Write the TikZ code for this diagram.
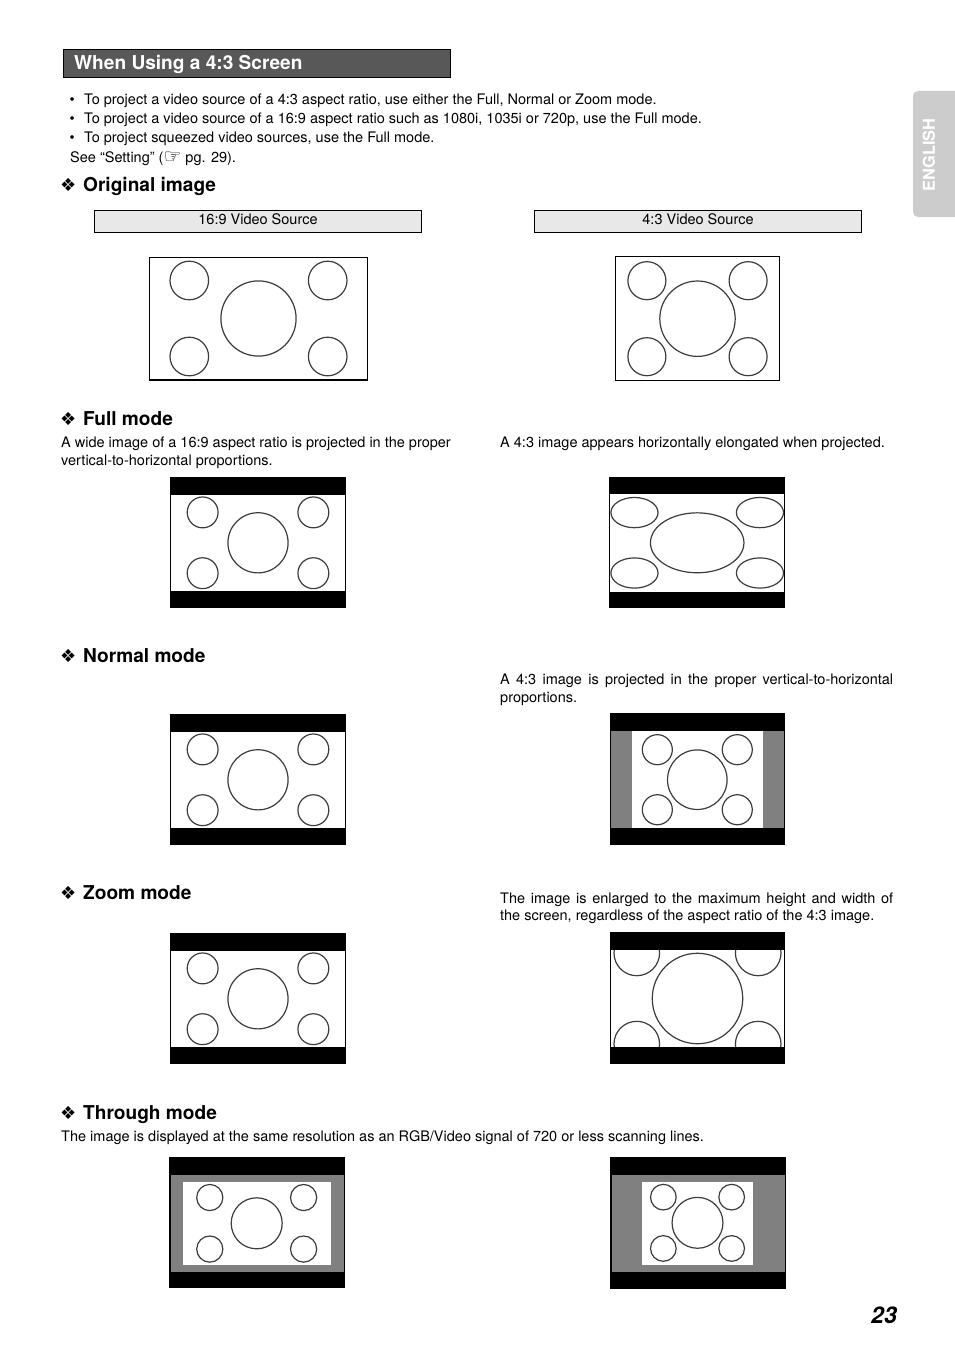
\documentclass[tikz,border=0pt]{standalone}
\usepackage{fontspec}
\setmainfont{TeX Gyre Heros}
\newfontfamily\symf{DejaVu Sans}
\newcommand\bodyf{\fontsize{14.5}{17}\selectfont}
\newcommand\hdf{\fontsize{19.1}{22}\selectfont\bfseries}
\newcommand\tabf{\fontsize{16.4}{19}\selectfont\bfseries}
\newcommand\pgf{\fontsize{23}{26}\selectfont\bfseries\itshape}
\definecolor{hdrgray}{RGB}{88,88,88}
\definecolor{boxgray}{RGB}{232,232,232}
\definecolor{midgray}{RGB}{128,128,128}
\definecolor{tabgray}{RGB}{204,204,204}
\definecolor{circgray}{RGB}{60,60,60}
\newcommand\widec[4]{\begin{scope}[shift={(#1,#2)},xscale=#3,yscale=#4]
 \draw[circ] (0,0) circle (37.6);
 \foreach \sx in {-1,1}{\foreach \sy in {-1,1}{\draw[circ] (\sx*69.2,\sy*38) circle (19.3);}}
\end{scope}}
\newcommand\stdc[4]{\begin{scope}[shift={(#1,#2)},xscale=#3,yscale=#4]
 \draw[circ] (0,0) circle (37.7);
 \foreach \sx in {-1,1}{\foreach \sy in {-1,1}{\draw[circ] (\sx*50.6,\sy*38) circle (19);}}
\end{scope}}
\begin{document}
\begin{tikzpicture}[x=1pt,y=-1pt,
  txt/.style={anchor=base west,inner sep=0pt,font=\bodyf},
  hd/.style={anchor=base west,inner sep=0pt,font=\hdf},
  dia/.style={anchor=base west,inner sep=0pt,font=\symf\fontsize{18}{20}\selectfont},
  circ/.style={draw=circgray,line width=1.2pt},
  frm/.style={draw=black,line width=1.4pt,fill=white},
  srcbox/.style={draw=black,line width=0.9pt,fill=boxgray}]
\useasboundingbox (0,0) rectangle (954,1351);
\fill[white] (0,0) rectangle (954,1351);
% header
\draw[fill=hdrgray,draw=black,line width=0.9pt] (63,49) rectangle (450.5,77);
\node[hd,text=white] (title) at (74,70) {When Using a 4:3 Screen};
% tab
\fill[tabgray,rounded corners=5pt] (913,91) rectangle (966,217);
\node[inner sep=0pt,rotate=90,text=white] (tab) at (929,155) {\tabf ENGLISH};
% bullets
\node[txt] (b1) at (69.5,105) {\textbullet};
\node[txt] (t1) at (84,105) {To project a video source of a 4:3 aspect ratio, use either the Full, Normal or Zoom mode.};
\node[txt] (b2) at (69.5,124) {\textbullet};
\node[txt] (t2) at (84,124) {To project a video source of a 16:9 aspect ratio such as 1080i, 1035i or 720p, use the Full mode.};
\node[txt] (b3) at (69.5,143) {\textbullet};
\node[txt] (t3) at (84,143) {To project squeezed video sources, use the Full mode.};
\node[txt] (t4) at (70,163) {See “Setting” ({\symf\fontsize{20}{20}\selectfont\raisebox{-1pt}{☞}} pg. 29).};
% Original image
\node[dia] (d1) at (60,192) {❖};
\node[hd] (h1) at (83,192) {Original image};
\draw[srcbox] (94.5,210.5) rectangle (421.5,232.5);
\node[inner sep=0pt,anchor=base,font=\bodyf] (s1) at (258,224.3) {16:9 Video Source};
\draw[srcbox] (534.5,210.5) rectangle (861.5,232.5);
\node[inner sep=0pt,anchor=base,font=\bodyf] (s2) at (698,224.3) {4:3 Video Source};
\draw[frm] (149.3,257.3) rectangle (367.7,379.8);
\widec{258.5}{318.5}{1}{1}
\draw[frm] (615.3,256.7) rectangle (779.3,380.3);
\stdc{697.5}{318.7}{1}{1}
% Full mode
\node[dia] (d2) at (60,425) {❖};
\node[hd] (h2) at (83,425) {Full mode};
\node[txt] (f1) at (61,447) {A wide image of a 16:9 aspect ratio is projected in the proper};
\node[txt] (f2) at (61,465) {vertical-to-horizontal proportions.};
\node[txt] (f3) at (500,447) {A 4:3 image appears horizontally elongated when projected.};
\fill[black] (170,477.3) rectangle (345.7,608.3);
\fill[white] (171.2,495) rectangle (344.5,591);
\widec{258}{542.8}{0.8}{0.8}
\fill[black] (609,477.3) rectangle (785,608.3);
\fill[white] (610.2,494) rectangle (783.8,592);
\stdc{697.2}{542.8}{1.24}{0.795}
% Normal mode
\node[dia] (d3) at (60,662) {❖};
\node[hd] (h3) at (83,662) {Normal mode};
\node[txt] (n1) at (500,684) {\makebox[393pt][s]{A 4:3 image is projected in the proper vertical-to-horizontal}};
\node[txt] (n2) at (500,702) {proportions.};
\fill[black] (170,714.3) rectangle (345.7,845.3);
\fill[white] (171.2,732) rectangle (344.5,828);
\widec{258}{779.8}{0.8}{0.8}
\fill[black] (610,713.3) rectangle (785,845);
\fill[midgray] (611.2,731) rectangle (783.8,828.3);
\fill[white] (631.7,731) rectangle (762.7,828.3);
\stdc{697.3}{779.7}{0.79}{0.79}
% Zoom mode
\node[dia] (d4) at (60,899) {❖};
\node[hd] (h4) at (83,899) {Zoom mode};
\node[txt] (z1) at (500,903) {\makebox[393pt][s]{The image is enlarged to the maximum height and width of}};
\node[txt] (z2) at (500,920) {the screen, regardless of the aspect ratio of the 4:3 image.};
\fill[black] (170,933.3) rectangle (345.7,1064.3);
\fill[white] (171.2,951) rectangle (344.5,1047);
\widec{258}{998.8}{0.8}{0.8}
\fill[black] (610,932.3) rectangle (785,1064.3);
\fill[white] (611.2,950) rectangle (783.8,1046.7);
\begin{scope}
\clip (611.2,950) rectangle (783.8,1046.7);
\stdc{697.5}{998.5}{1.2}{1.2}
\end{scope}
% Through mode
\node[dia] (d5) at (60,1119) {❖};
\node[hd] (h5) at (83,1119) {Through mode};
\node[txt] (r1) at (61,1141) {The image is displayed at the same resolution as an RGB/Video signal of 720 or less scanning lines.};
\fill[black] (169.3,1157.3) rectangle (345,1288.3);
\fill[midgray] (171,1175) rectangle (343.5,1271.7);
\fill[white] (182.7,1181.7) rectangle (330.7,1265);
\widec{256.7}{1223.3}{0.678}{0.678}
\fill[black] (610,1157.3) rectangle (785.7,1289);
\fill[midgray] (611.5,1175) rectangle (784.5,1271.7);
\fill[white] (641.7,1181.7) rectangle (752.7,1265);
\stdc{697.5}{1222.8}{0.675}{0.675}
% page number
\node[inner sep=0pt,anchor=base east] (pg) at (897,1323) {\pgf 23};
\end{tikzpicture}
\end{document}
